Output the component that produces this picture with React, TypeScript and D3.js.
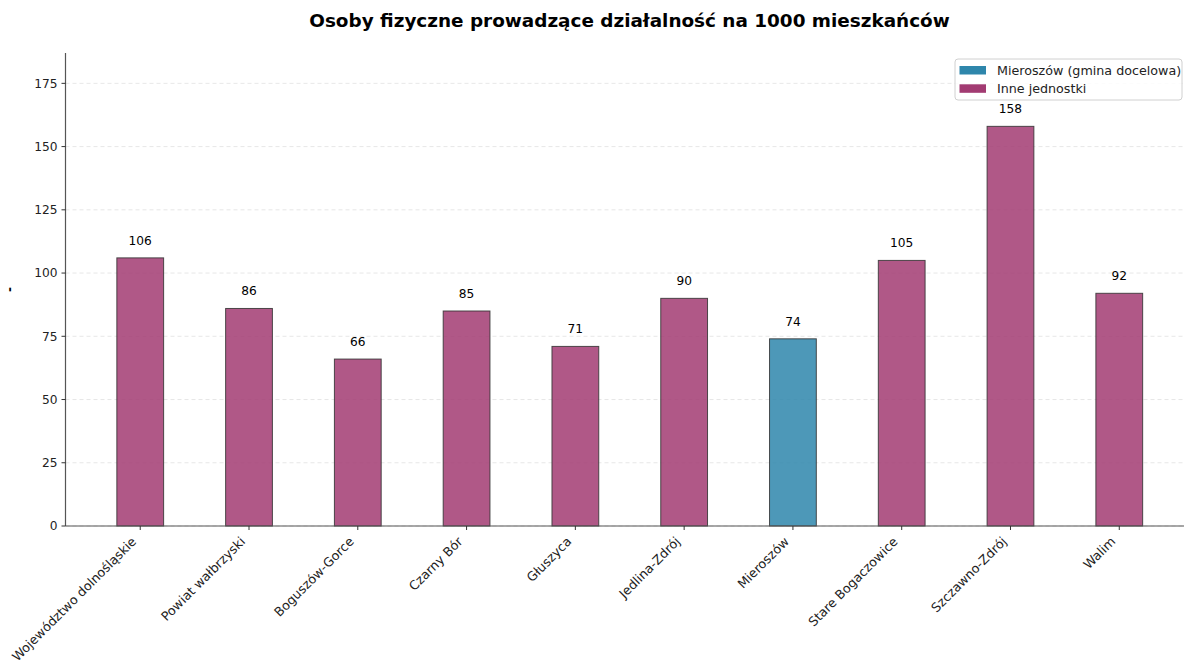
import React, { useEffect } from "react";
import * as d3 from "d3";

const categories = [
  "Województwo dolnośląskie",
  "Powiat wałbrzyski",
  "Boguszów-Gorce",
  "Czarny Bór",
  "Głuszyca",
  "Jedlina-Zdrój",
  "Mieroszów",
  "Stare Bogaczowice",
  "Szczawno-Zdrój",
  "Walim",
];
const values = [106, 86, 66, 85, 71, 90, 74, 105, 158, 92];
const target = "Mieroszów";
const yTicks = [0, 25, 50, 75, 100, 125, 150, 175];
const title = "Osoby fizyczne prowadzące działalność na 1000 mieszkańców";
const legendLabels = ["Mieroszów (gmina docelowa)", "Inne jednostki"];

const W = 1184;
const H = 662;
const BLUE = "#2E86AB";
const PINK = "#A23B72";
const FONT = "DejaVu Sans, sans-serif";

export default function App() {
  useEffect(() => {
    document.body.style.margin = "0";
  }, []);

  const x = d3.scaleLinear().domain([-0.687, 9.687]).range([65.5, 1194]);
  const y = d3.scaleLinear().domain([0, 187]).range([526, 53]);
  const bw = x(0.43) - x(0);
  const x0 = 65.5;
  const y0 = y(0);
  const xfs = 12.7;
  const xoff = 0.707 * 1.164 * xfs;

  return (
    <svg width={W} height={H} style={{ display: "block", background: "#fff" }} fontFamily={FONT}>
      <text x={629.5} y={27} textAnchor="middle" fontSize={18.4} fontWeight="bold" fill="#000">
        {title}
      </text>
      {/* gridlines */}
      {yTicks.map((t) => (
        <line key={"g" + t} x1={x0} x2={W} y1={y(t)} y2={y(t)} stroke="#ccc" strokeOpacity={0.6} strokeDasharray="4,3" strokeWidth={0.8} />
      ))}
      {/* bars */}
      {values.map((v, i) => {
        const isT = categories[i] === target;
        return (
          <g key={"b" + i}>
            <rect
              x={x(i) - bw / 2}
              y={y(v)}
              width={bw}
              height={y0 - y(v)}
              fill={isT ? BLUE : PINK}
              fillOpacity={0.85}
              stroke="#333"
              strokeOpacity={0.85}
              strokeWidth={1}
            />
            <text x={x(i)} y={y(v) - 13} textAnchor="middle" fontSize={12.2} fill="#000">
              {v}
            </text>
          </g>
        );
      })}
      {/* axes */}
      <line x1={x0} x2={x0} y1={53} y2={y0} stroke="#555" strokeWidth={1.2} />
      <line x1={x0} x2={W} y1={y0} y2={y0} stroke="#555" strokeWidth={1.2} />
      {yTicks.map((t) => (
        <g key={"yt" + t}>
          <line x1={x0 - 4} x2={x0} y1={y(t)} y2={y(t)} stroke="#333" strokeWidth={1} />
          <text x={x0 - 8} y={y(t)} dy="0.35em" textAnchor="end" fontSize={12.2} fill="#222">
            {t}
          </text>
        </g>
      ))}
      {categories.map((c, i) => (
        <g key={"xt" + i}>
          <line x1={x(i)} x2={x(i)} y1={y0} y2={y0 + 4} stroke="#333" strokeWidth={1} />
          <text
            transform={`translate(${x(i) - xoff - 1},${y0 + 8}) rotate(-45)`}
            textAnchor="end"
            dy="0.93em"
            fontSize={xfs}
            fill="#222"
          >
            {c}
          </text>
        </g>
      ))}
      {/* y label */}
      <text transform={`translate(14,${(53 + y0) / 2}) rotate(-90)`} textAnchor="middle" fontSize={12} fontWeight="bold" fill="#000">
        -
      </text>
      {/* legend */}
      <g>
        <rect x={955} y={59} width={227} height={41} rx={3} fill="#fff" fillOpacity={0.85} stroke="#d0d0d0" />
        {legendLabels.map((l, i) => (
          <g key={"l" + i}>
            <rect x={959.5} y={66 + i * 18.3} width={26.5} height={8.5} fill={i === 0 ? BLUE : PINK} />
            <text x={997} y={70.5 + i * 18.3} dy="0.35em" fontSize={12.7} fill="#222">
              {l}
            </text>
          </g>
        ))}
      </g>
    </svg>
  );
}
